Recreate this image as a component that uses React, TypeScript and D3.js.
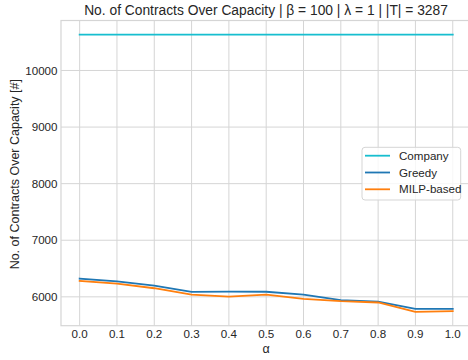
import React from "react";
import * as d3 from "d3";

const alphas = [0.0, 0.1, 0.2, 0.3, 0.4, 0.5, 0.6, 0.7, 0.8, 0.9, 1.0];
const companyValues = [10635, 10635, 10635, 10635, 10635, 10635, 10635, 10635, 10635, 10635, 10635];
const greedyValues = [6323, 6272, 6200, 6088, 6092, 6090, 6040, 5940, 5917, 5788, 5788];
const milpValues = [6282, 6235, 6152, 6040, 6005, 6040, 5965, 5923, 5900, 5735, 5746];
const yTicks = [6000, 7000, 8000, 9000, 10000];
const xTickLabels = ["0.0", "0.1", "0.2", "0.3", "0.4", "0.5", "0.6", "0.7", "0.8", "0.9", "1.0"];

const seriesList = [
  { name: "Company", values: companyValues, color: "#17becf" },
  { name: "Greedy", values: greedyValues, color: "#1f77b4" },
  { name: "MILP-based", values: milpValues, color: "#ff7f0e" },
];

const W = 468;
const H = 360;
const M = { left: 61, right: 471.4, top: 20.5, bottom: 325.7 };
const FONT = "'Liberation Sans', Arial, sans-serif";
const TEXT = "#262626";
const GRID = "#d5d5d5";

export default function App() {
  const x = d3.scaleLinear().domain([-0.05, 1.05]).range([M.left, M.right]);
  const y = d3.scaleLinear().domain([5490, 10883]).range([M.bottom, M.top]);
  const line = d3
    .line<number>()
    .x((_, i) => x(alphas[i]))
    .y((d) => y(d));

  return (
    <svg
      width={W}
      height={H}
      style={{ position: "fixed", left: 0, top: 0, background: "#fff", fontFamily: FONT }}
    >
      <rect x={0} y={0} width={W} height={H} fill="#fff" />
      {/* grid */}
      {alphas.map((a, i) => (
        <line key={"gx" + i} x1={x(a)} x2={x(a)} y1={M.top} y2={M.bottom} stroke={GRID} strokeWidth={1} />
      ))}
      {yTicks.map((t) => (
        <line key={"gy" + t} x1={M.left} x2={M.right} y1={y(t)} y2={y(t)} stroke={GRID} strokeWidth={1} />
      ))}
      {/* axes frame */}
      <rect x={M.left} y={M.top} width={M.right - M.left} height={M.bottom - M.top} fill="none" stroke={GRID} strokeWidth={1.2} />
      {/* lines */}
      {seriesList.map((s) => (
        <path key={s.name} d={line(s.values) || ""} fill="none" stroke={s.color} strokeWidth={1.8} strokeLinejoin="round" strokeLinecap="square" />
      ))}
      {/* y tick labels */}
      {yTicks.map((t) => (
        <text key={"ty" + t} x={M.left - 3.5} y={y(t)} dy="0.35em" textAnchor="end" fontSize={11.6} fill={TEXT}>
          {t}
        </text>
      ))}
      {/* x tick labels */}
      {alphas.map((a, i) => (
        <text key={"tx" + i} x={x(a)} y={334} dy="0.35em" textAnchor="middle" fontSize={11.6} fill={TEXT}>
          {xTickLabels[i]}
        </text>
      ))}
      {/* axis labels */}
      <text x={(M.left + 468 + 3) / 2} y={349} dy="0.35em" textAnchor="middle" fontSize={12.5} fill={TEXT}>
        α
      </text>
      <text
        transform={`translate(15, ${(86.7 + 261.7) / 2}) rotate(-90)`}
        dy="0.35em"
        textAnchor="middle"
        fontSize={12.5}
        fill={TEXT}
      >
        No. of Contracts Over Capacity [#]
      </text>
      {/* title */}
      <text x={266} y={10} dy="0.35em" textAnchor="middle" fontSize={13.8} fill={TEXT}>
        No. of Contracts Over Capacity | β = 100 | λ = 1 | |T| = 3287
      </text>
      {/* legend */}
      <g>
        <rect x={362} y={147.3} width={98.7} height={52.7} rx={3} fill="#fff" fillOpacity={0.8} stroke="#d5d5d5" strokeWidth={1} />
        {seriesList.map((s, i) => (
          <g key={"lg" + s.name} transform={`translate(0, ${155.7 + i * 16.8})`}>
            <line x1={365} x2={390} y1={0} y2={0} stroke={s.color} strokeWidth={1.8} />
            <text x={399} y={0} dy="0.35em" fontSize={11.6} fill={TEXT}>
              {s.name}
            </text>
          </g>
        ))}
      </g>
    </svg>
  );
}
